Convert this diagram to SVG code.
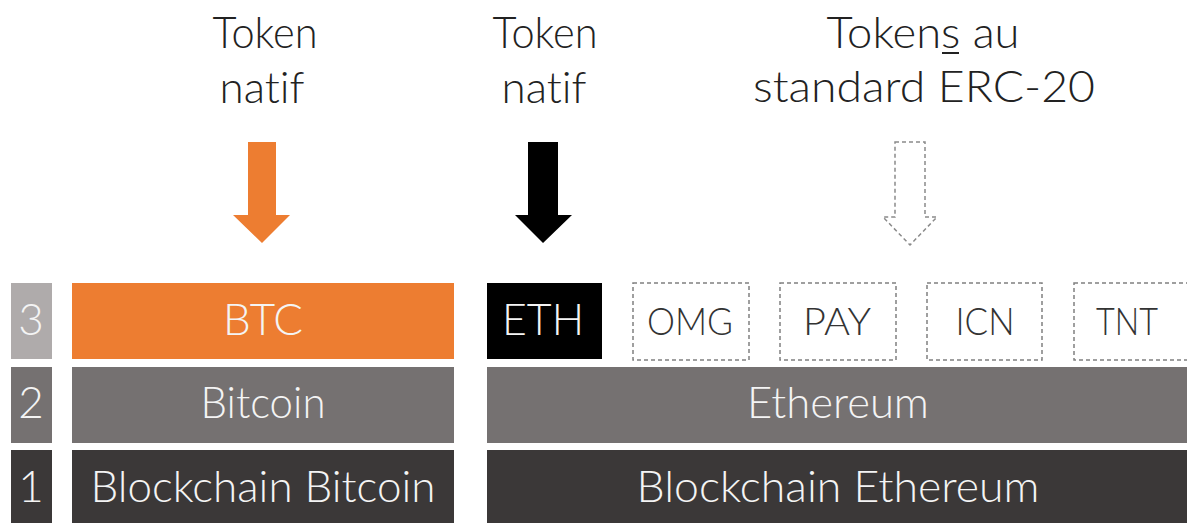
<svg xmlns="http://www.w3.org/2000/svg" width="1187" height="523" viewBox="0 0 1187 523">
<style>
text{font-family:"Lato","Open Sans","Liberation Sans",sans-serif;font-weight:300;text-anchor:middle;font-variant-ligatures:none}
.h{fill:#222;font-size:44px}
.w{fill:#f4f4f4;font-size:44px}
.d{fill:#333;font-size:38px}
.dash{fill:#fff;stroke:#808080;stroke-width:1.5;stroke-dasharray:4 3}
</style>
<rect width="1187" height="523" fill="#fff"/>
<g id="header-btc"><text class="h" x="265" y="48" textLength="105" lengthAdjust="spacingAndGlyphs">Token</text><text class="h" x="262" y="103" textLength="85" lengthAdjust="spacingAndGlyphs">natif</text></g>
<g id="header-eth"><text class="h" x="545" y="48" textLength="105" lengthAdjust="spacingAndGlyphs">Token</text><text class="h" x="544" y="103" textLength="85" lengthAdjust="spacingAndGlyphs">natif</text></g>
<g id="header-erc20"><text class="h" x="923" y="48" textLength="193" lengthAdjust="spacingAndGlyphs">Tokens au</text><line x1="942" y1="53" x2="959" y2="53" stroke="#222" stroke-width="2"/><text class="h" x="924" y="102" textLength="342" lengthAdjust="spacingAndGlyphs">standard ERC-20</text></g>
<g id="connectors">
<polygon points="248,142 276,142 276,215 290,215 262,243 233,215 248,215" fill="#ED7D31"/>
<polygon points="528,142 558,142 558,215 572,215 543,243 515,215 528,215" fill="#000"/>
<polygon points="895,142 925,142 925,217 937,217 910,245 883,217 895,217" fill="none" stroke="#8a8a8a" stroke-width="1.5" stroke-dasharray="4 3"/>
</g>
<g id="num3"><rect x="11" y="283" width="41" height="76" fill="#AFABAB"/><text class="w" x="31" y="335">3</text></g>
<g id="num2"><rect x="11" y="367" width="41" height="76" fill="#757171"/><text class="w" x="31" y="418">2</text></g>
<g id="num1"><rect x="11" y="450" width="41" height="73" fill="#3B3838"/><text class="w" x="31" y="502">1</text></g>
<g id="btc"><rect x="72" y="283" width="382" height="76" fill="#ED7D31"/><text class="w" x="263" y="335" textLength="80" lengthAdjust="spacingAndGlyphs">BTC</text></g>
<g id="bitcoin"><rect x="72" y="367" width="382" height="76" fill="#757171"/><text class="w" x="263" y="418" textLength="125" lengthAdjust="spacingAndGlyphs">Bitcoin</text></g>
<g id="blockchain-bitcoin"><rect x="72" y="450" width="382" height="73" fill="#3B3838"/><text class="w" x="263" y="502" textLength="345" lengthAdjust="spacingAndGlyphs">Blockchain Bitcoin</text></g>
<g id="eth"><rect x="487" y="283" width="115" height="76" fill="#000"/><text class="w" x="543" y="335" textLength="82" lengthAdjust="spacingAndGlyphs">ETH</text></g>
<g id="omg"><rect class="dash" x="633" y="283" width="116" height="77"/><text class="d" x="690" y="335" textLength="86" lengthAdjust="spacingAndGlyphs">OMG</text></g>
<g id="pay"><rect class="dash" x="780" y="283" width="116" height="77"/><text class="d" x="837" y="335" textLength="68" lengthAdjust="spacingAndGlyphs">PAY</text></g>
<g id="icn"><rect class="dash" x="927" y="283" width="115" height="77"/><text class="d" x="985" y="335" textLength="59" lengthAdjust="spacingAndGlyphs">ICN</text></g>
<g id="tnt"><rect class="dash" x="1074" y="283" width="120" height="77"/><text class="d" x="1127" y="335" textLength="62" lengthAdjust="spacingAndGlyphs">TNT</text></g>
<g id="ethereum"><rect x="487" y="367" width="700" height="76" fill="#757171"/><text class="w" x="838" y="418" textLength="182" lengthAdjust="spacingAndGlyphs">Ethereum</text></g>
<g id="blockchain-ethereum"><rect x="487" y="450" width="700" height="73" fill="#3B3838"/><text class="w" x="838" y="502" textLength="403" lengthAdjust="spacingAndGlyphs">Blockchain Ethereum</text></g>
</svg>
